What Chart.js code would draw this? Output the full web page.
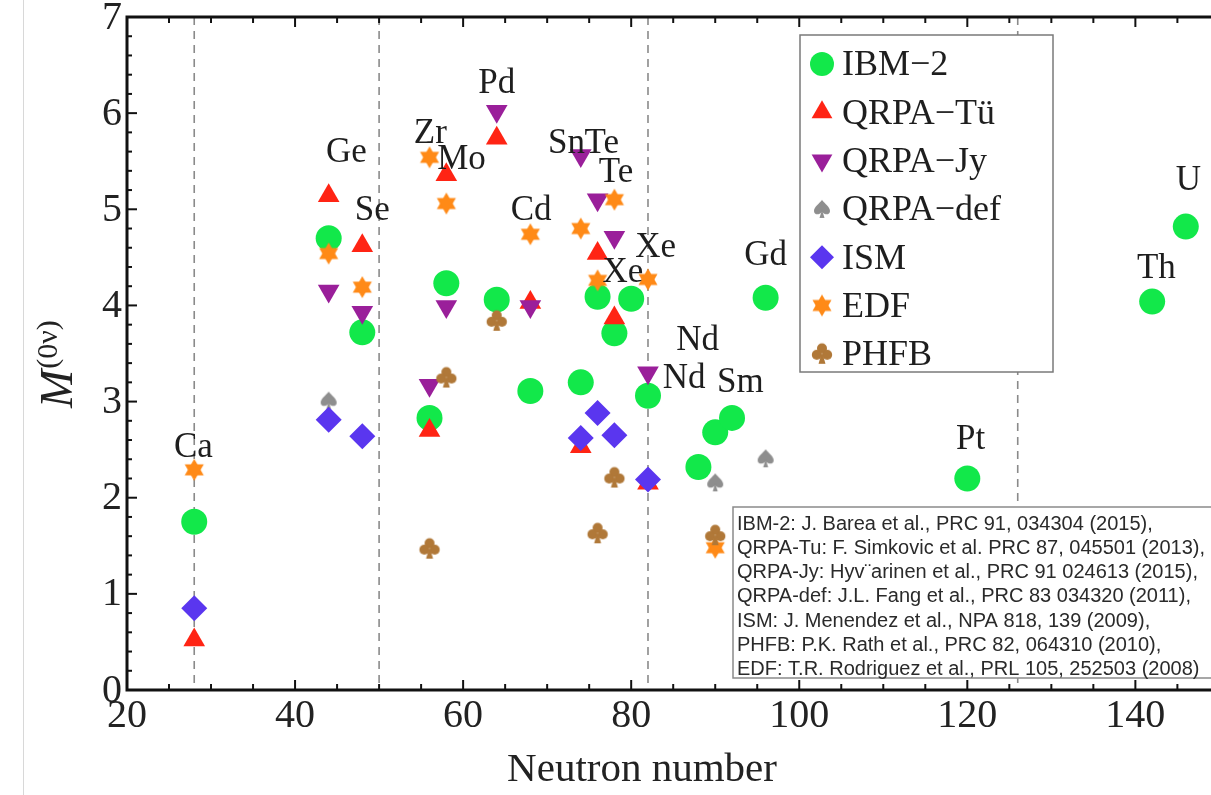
<!DOCTYPE html>
<html>
<head>
<meta charset="utf-8">
<title>M(0v) vs neutron number</title>
<script src="https://cdn.jsdelivr.net/npm/chart.js@4.4.1/dist/chart.umd.min.js"></script>
<style>
  body { margin: 0; background: #fff; overflow: hidden; }
  #wrap { position: relative; width: 1211px; height: 795px; }
  #chart { display: block; }
  #edge { position: absolute; left: 23px; top: 0; width: 1px; height: 795px; background: #d8d8d8; }
</style>
</head>
<body>
<div id="wrap">
  <canvas id="chart" width="1211" height="795"></canvas>
  <div id="edge"></div>
</div>
<script>
// nuclear matrix elements per model: neutron number N and M(0v)
const ibm2N = [28, 44, 48, 56, 58, 64, 68, 74, 76, 78, 80, 82, 88, 90, 92, 96, 120, 142, 146];
const ibm2M = [1.75, 4.70, 3.72, 2.83, 4.23, 4.06, 3.11, 3.20, 4.09, 3.71, 4.07, 3.06, 2.32, 2.68, 2.83, 4.08, 2.20, 4.04, 4.82];

const tueN = [28, 44, 48, 56, 58, 64, 68, 74, 76, 78, 82];
const tueM = [0.52, 5.14, 4.62, 2.70, 5.36, 5.74, 4.03, 2.53, 4.54, 3.87, 2.15];

const jyN = [44, 48, 56, 58, 64, 68, 74, 76, 78, 82];
const jyM = [4.15, 3.93, 3.17, 3.99, 6.02, 3.99, 5.56, 5.10, 4.71, 3.30];

const defN = [44, 90, 96];
const defM = [3.01, 2.16, 2.41];

const ismN = [28, 44, 48, 74, 76, 78, 82];
const ismM = [0.85, 2.81, 2.64, 2.62, 2.88, 2.65, 2.19];

const edfN = [28, 44, 48, 56, 58, 68, 74, 76, 78, 82, 90];
const edfM = [2.29, 4.54, 4.19, 5.54, 5.06, 4.74, 4.80, 4.26, 5.10, 4.27, 1.48];

const phfbN = [56, 58, 64, 76, 78, 90];
const phfbM = [1.47, 3.25, 3.84, 1.63, 2.21, 1.61];

// isotope names and where they sit (N, M)
const isoText = ['Ca', 'Ge', 'Se', 'Zr', 'Mo', 'Pd', 'Cd', 'Sn', 'Te', 'Te', 'Xe', 'Xe', 'Nd', 'Nd', 'Sm', 'Gd', 'Pt', 'Th', 'U'];
const isoN = [27.9, 46.1, 49.2, 56.1, 59.8, 64.0, 68.1, 72.3, 76.5, 78.2, 82.9, 79.0, 87.9, 86.3, 93.0, 96.0, 120.4, 142.5, 146.3];
const isoM = [2.52, 5.59, 4.98, 5.79, 5.51, 6.31, 4.98, 5.68, 5.68, 5.38, 4.60, 4.34, 3.63, 3.24, 3.20, 4.52, 2.60, 4.38, 5.30];

// shell closures
const magicN = [28, 50, 82, 126];

const xTicks = [20, 40, 60, 80, 100, 120, 140];
const yTicks = [0, 1, 2, 3, 4, 5, 6, 7];

const refLines = [
  'IBM-2: J. Barea et al., PRC 91, 034304 (2015),',
  'QRPA-Tu: F. Simkovic et al. PRC 87, 045501 (2013),',
  'QRPA-Jy: Hyv\u00a8arinen et al., PRC 91 024613 (2015),',
  'QRPA-def: J.L. Fang et al., PRC 83 034320 (2011),',
  'ISM: J. Menendez et al., NPA 818, 139 (2009),',
  'PHFB: P.K. Rath et al., PRC 82, 064310 (2010),',
  'EDF: T.R. Rodriguez et al., PRL 105, 252503 (2008)'
];

const SERIF = '"Liberation Serif", "DejaVu Serif", serif';

// little canvases for the marker shapes Chart.js does not have
function glyph(size, draw) {
  const c = document.createElement('canvas');
  c.width = size; c.height = size;
  draw(c.getContext('2d'), size);
  return c;
}

const starImg = glyph(24, (g, s) => {
  g.fillStyle = '#ff8a17';
  const cx = s / 2, cy = s / 2, r = 11;
  for (const off of [-Math.PI / 2, Math.PI / 2]) {
    g.beginPath();
    for (let k = 0; k < 3; k++) {
      const a = off + k * 2 * Math.PI / 3;
      g.lineTo(cx + r * Math.cos(a), cy + r * Math.sin(a));
    }
    g.closePath();
    g.fill();
  }
});

const clubImg = glyph(24, (g) => {
  g.fillStyle = '#b07838';
  [[12, 6.5], [6.8, 13], [17.2, 13]].forEach(([cx, cy]) => {
    g.beginPath(); g.arc(cx, cy, 5, 0, Math.PI * 2); g.fill();
  });
  g.beginPath();
  g.moveTo(12, 10); g.lineTo(8.5, 22); g.lineTo(15.5, 22); g.closePath();
  g.fill();
});

const spadeImg = glyph(22, (g) => {
  g.fillStyle = '#8e8e8e';
  g.beginPath();
  g.moveTo(11, 2);
  g.bezierCurveTo(14, 6, 19, 9, 19, 13);
  g.bezierCurveTo(19, 17, 14, 17.5, 11, 14);
  g.bezierCurveTo(8, 17.5, 3, 17, 3, 13);
  g.bezierCurveTo(3, 9, 8, 6, 11, 2);
  g.fill();
  g.beginPath();
  g.moveTo(11, 12); g.lineTo(8.5, 20); g.lineTo(13.5, 20); g.closePath();
  g.fill();
});

const pts = (n, m) => n.map((v, i) => ({ x: v, y: m[i] }));

// later series sit on top, so give them a lower order
const series = [
  { label: 'IBM\u22122', data: pts(ibm2N, ibm2M), pointStyle: 'circle', pointRadius: 13, color: '#12e84a', order: 7 },
  { label: 'QRPA\u2212T\u00fc', data: pts(tueN, tueM), pointStyle: 'triangle', pointRadius: 12.5, color: '#ff2414', order: 6 },
  { label: 'QRPA\u2212Jy', data: pts(jyN, jyM), pointStyle: 'triangle', rotation: 180, pointRadius: 12.5, color: '#9a1f9a', order: 5 },
  { label: 'QRPA\u2212def', data: pts(defN, defM), pointStyle: spadeImg, pointRadius: 11, color: '#8e8e8e', order: 4 },
  { label: 'ISM', data: pts(ismN, ismM), pointStyle: 'rectRot', pointRadius: 13, color: '#5a36ef', order: 3 },
  { label: 'EDF', data: pts(edfN, edfM), pointStyle: starImg, pointRadius: 12, color: '#ff8a17', order: 2 },
  { label: 'PHFB', data: pts(phfbN, phfbM), pointStyle: clubImg, pointRadius: 12, color: '#b07838', order: 1 }
];

const datasets = series.map(s => ({
  label: s.label,
  data: s.data,
  order: s.order,
  pointStyle: s.pointStyle,
  rotation: s.rotation || 0,
  pointRadius: s.pointRadius,
  pointBackgroundColor: s.color,
  pointBorderColor: s.color,
  pointBorderWidth: 0,
  showLine: false
}));

function seg(ctx, x1, y1, x2, y2) {
  ctx.beginPath(); ctx.moveTo(x1, y1); ctx.lineTo(x2, y2); ctx.stroke();
}

const framePlugin = {
  id: 'frame',
  beforeDatasetsDraw(chart) {
    const { ctx, chartArea: a, scales: { x } } = chart;
    ctx.save();
    ctx.strokeStyle = '#8a8a8a';
    ctx.lineWidth = 1.6;
    ctx.setLineDash([8, 6]);
    magicN.forEach(n => {
      const px = x.getPixelForValue(n);
      seg(ctx, px, a.top, px, a.bottom);
    });
    ctx.restore();
  },
  afterDatasetsDraw(chart) {
    const { ctx, scales: { x, y } } = chart;
    ctx.save();
    ctx.fillStyle = '#1e1e1e';
    ctx.font = '35px ' + SERIF;
    ctx.textAlign = 'center';
    ctx.textBaseline = 'middle';
    isoText.forEach((t, i) => {
      ctx.fillText(t, x.getPixelForValue(isoN[i]), y.getPixelForValue(isoM[i]));
    });
    ctx.restore();
  },
  afterDraw(chart) {
    const { ctx, chartArea: a, scales: { x, y } } = chart;
    ctx.save();

    // frame
    ctx.strokeStyle = '#111';
    ctx.lineWidth = 3;
    ctx.beginPath();
    ctx.moveTo(a.right + 2, a.top);
    ctx.lineTo(a.left, a.top);
    ctx.lineTo(a.left, a.bottom);
    ctx.lineTo(a.right + 2, a.bottom);
    ctx.stroke();

    // inward ticks
    ctx.lineWidth = 2;
    for (let n = 20; n <= 145; n += 5) {
      const px = x.getPixelForValue(n);
      const len = n % 20 === 0 ? 10 : 6;
      seg(ctx, px, a.bottom, px, a.bottom - len);
      seg(ctx, px, a.top, px, a.top + len);
    }
    for (let k = 0; k <= 35; k++) {
      const py = y.getPixelForValue(k * 0.2);
      const len = k % 5 === 0 ? 10 : 5;
      seg(ctx, a.left, py, a.left + len, py);
    }

    // tick labels
    ctx.fillStyle = '#222';
    ctx.font = '40px ' + SERIF;
    ctx.textAlign = 'center';
    ctx.textBaseline = 'middle';
    xTicks.forEach(v => ctx.fillText(String(v), x.getPixelForValue(v), 716));
    ctx.textAlign = 'right';
    yTicks.forEach(v => ctx.fillText(String(v), a.left - 5, y.getPixelForValue(v) + 1));

    // axis titles
    ctx.textAlign = 'center';
    ctx.font = '41px ' + SERIF;
    ctx.fillText('Neutron number', 642, 770);

    ctx.save();
    ctx.translate(72, 408);
    ctx.rotate(-Math.PI / 2);
    ctx.textAlign = 'left';
    ctx.textBaseline = 'alphabetic';
    ctx.font = 'italic 46px ' + SERIF;
    ctx.fillText('M', 0, 0);
    const mw = ctx.measureText('M').width;
    ctx.font = '30px ' + SERIF;
    ctx.fillText('(0\u03bd)', mw + 1, -15);
    ctx.restore();

    // legend
    ctx.fillStyle = '#fff';
    ctx.fillRect(800, 35, 253, 337);
    ctx.strokeStyle = '#7a7a7a';
    ctx.lineWidth = 1.5;
    ctx.strokeRect(800, 35, 253, 337);
    ctx.font = '36px ' + SERIF;
    ctx.textAlign = 'left';
    ctx.textBaseline = 'middle';
    chart.data.datasets.forEach((ds, i) => {
      const ly = 64 + i * 48.3;
      ctx.fillStyle = ds.pointBackgroundColor;
      ctx.strokeStyle = ds.pointBorderColor;
      ctx.lineWidth = 0;
      Chart.helpers.drawPoint(ctx, {
        pointStyle: ds.pointStyle,
        rotation: ds.rotation,
        radius: Math.min(ds.pointRadius, 12),
        borderWidth: 0
      }, 822, ly);
      ctx.fillStyle = '#1e1e1e';
      ctx.fillText(ds.label, 842, ly + 2);
    });

    // reference box
    ctx.fillStyle = '#fff';
    ctx.fillRect(733, 507, 490, 171);
    ctx.strokeStyle = '#8a8a8a';
    ctx.lineWidth = 1.5;
    ctx.strokeRect(733, 507, 490, 171);
    ctx.fillStyle = '#2a2a2a';
    ctx.font = '20px "Liberation Sans", Arial, sans-serif';
    refLines.forEach((t, i) => ctx.fillText(t, 737, 524 + i * 24.3));

    ctx.restore();
  }
};

new Chart(document.getElementById('chart'), {
  type: 'scatter',
  data: { datasets },
  options: {
    responsive: false,
    devicePixelRatio: 1,
    animation: false,
    layout: { autoPadding: false, padding: { left: 127, top: 17, right: 0, bottom: 105 } },
    plugins: { legend: { display: false }, tooltip: { enabled: false } },
    scales: {
      x: { type: 'linear', min: 20, max: 149, display: false },
      y: { type: 'linear', min: 0, max: 7, display: false }
    }
  },
  plugins: [framePlugin]
});
</script>
</body>
</html>
